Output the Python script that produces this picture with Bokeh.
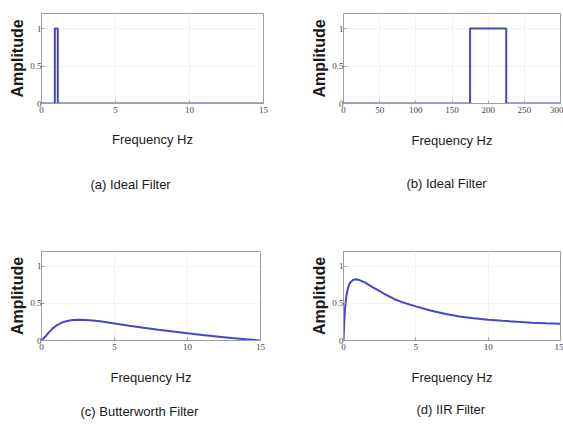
from bokeh.plotting import figure
from bokeh.layouts import column, row
from bokeh.models import FixedTicker, Title
from bokeh.embed import file_html
from bokeh.resources import INLINE

# (a) Ideal filter, narrow pass band
a_x = [0, 0.9, 0.9, 1.1, 1.1, 15]
a_y = [0, 0, 1, 1, 0, 0]
# (b) Ideal filter, 175-225 Hz
b_x = [0, 175, 175, 225, 225, 300]
b_y = [0, 0, 1, 1, 0, 0]
# (c) Butterworth filter response
c_x = [0, 0.25, 0.5, 0.75, 1, 1.5, 2, 2.5, 3, 3.5, 4, 5, 6, 7, 8, 9, 10, 11, 12, 13, 14, 15]
c_y = [0, 0.05, 0.11, 0.16, 0.2, 0.25, 0.272, 0.28, 0.278, 0.27, 0.258, 0.23, 0.2, 0.172, 0.145, 0.12, 0.097, 0.075, 0.055, 0.035, 0.017, 0.0]
# (d) IIR filter response
d_x = [0, 0.05, 0.1, 0.2, 0.3, 0.4, 0.5, 0.65, 0.85, 1.1, 1.5, 2, 2.5, 3, 3.5, 4, 5, 6, 7, 8, 9, 10, 11, 12, 13, 14, 15]
d_y = [0, 0.25, 0.42, 0.6, 0.7, 0.76, 0.79, 0.815, 0.825, 0.815, 0.78, 0.72, 0.665, 0.61, 0.56, 0.52, 0.46, 0.405, 0.36, 0.325, 0.3, 0.28, 0.265, 0.252, 0.24, 0.232, 0.225]

x_ticks_15 = [0, 5, 10, 15]
x_ticks_300 = [0, 50, 100, 150, 200, 250, 300]
y_ticks = [0, 0.5, 1]

captions = ["(a) Ideal Filter", "(b) Ideal Filter", "(c) Butterworth Filter", "(d) IIR Filter"]

LINE = "#4646cc"
FRAME = "#9c9cab"


def panel(xs, ys, xmax, xticks, w, h, bl, br, bt, bb, xlab_standoff, cap_offset, cap_standoff, caption):
    p = figure(width=w, height=h, x_range=(0, xmax), y_range=(0, 1.2),
               output_backend="svg", toolbar_location=None,
               min_border_left=bl, min_border_right=br,
               min_border_top=bt, min_border_bottom=bb)
    p.line(xs, ys, line_color=LINE, line_width=2)
    p.outline_line_color = FRAME
    p.outline_line_width = 1
    for ax in (p.xaxis[0], p.yaxis[0]):
        ax.axis_line_color = FRAME
        ax.major_tick_line_color = FRAME
        ax.major_tick_in = 3
        ax.major_tick_out = 0
        ax.minor_tick_line_color = None
        ax.major_label_text_font = "Liberation Serif"
        ax.major_label_text_font_size = "9px"
        ax.major_label_text_color = "#444444"
        ax.axis_label_text_font = "Liberation Sans"
        ax.axis_label_text_color = "#1a1a1a"
    p.xaxis.ticker = FixedTicker(ticks=xticks)
    p.yaxis.ticker = FixedTicker(ticks=y_ticks)
    p.xaxis.major_label_standoff = 3
    p.yaxis.major_label_standoff = 0
    p.yaxis.major_label_overrides = {0: "0", 0.5: "0.5", 1: "1"}
    p.xaxis.axis_label = "Frequency Hz"
    p.xaxis.axis_label_text_font_size = "13px"
    p.xaxis.axis_label_text_font_style = "normal"
    p.xaxis.axis_label_standoff = xlab_standoff
    p.yaxis.axis_label = "Amplitude"
    p.yaxis.axis_label_text_font_size = "16px"
    p.yaxis.axis_label_text_font_style = "bold"
    p.yaxis.axis_label_standoff = 1
    p.xgrid.ticker = FixedTicker(ticks=xticks)
    p.ygrid.ticker = FixedTicker(ticks=y_ticks)
    p.grid.grid_line_color = "#e8e8e8"
    p.grid.grid_line_dash = "2 2"
    p.add_layout(Title(text=caption, align="left", offset=cap_offset, standoff=cap_standoff,
                       text_font="Liberation Sans", text_font_size="13px",
                       text_font_style="normal", text_color="#1a1a1a"), "below")
    return p


pa = panel(a_x, a_y, 15, x_ticks_15, 290, 228, 41, 27, 10, 125, 16, 49, 51, captions[0])
pb = panel(b_x, b_y, 300, x_ticks_300, 273, 228, 53, 3, 13, 122, 17, 63, 47, captions[1])
pc = panel(c_x, c_y, 15, x_ticks_15, 290, 206, 41, 30, 23, 91, 17, 39, 28, captions[2])
pd = panel(d_x, d_y, 15, x_ticks_15, 273, 206, 53, 3, 19, 94, 17, 73, 25, captions[3])

layout = column(row(pa, pb), row(pc, pd))
open("out.html", "w").write(file_html(layout, INLINE))
